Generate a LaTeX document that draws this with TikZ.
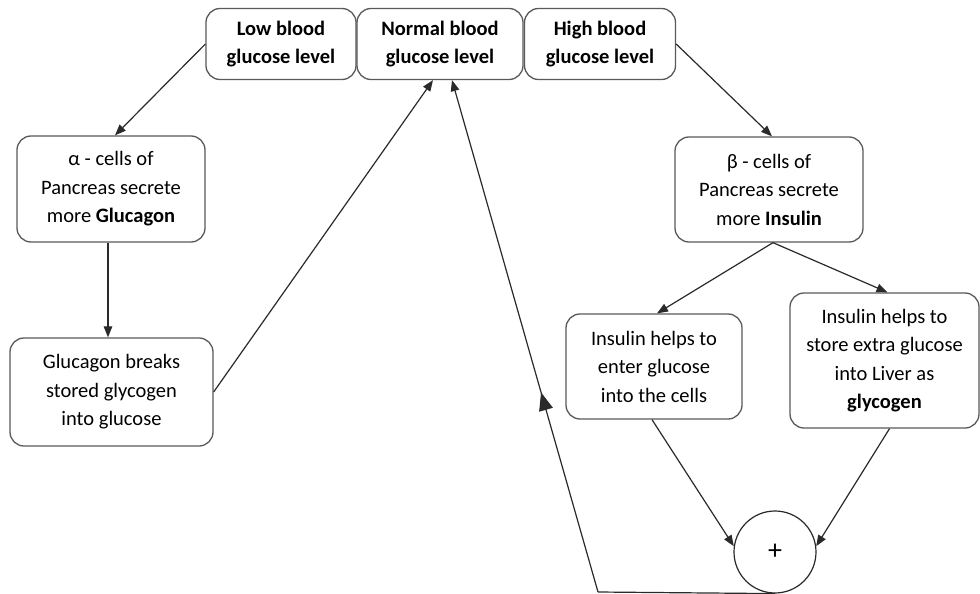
\documentclass[tikz,border=0pt]{standalone}
\usepackage{fontspec}
\setmainfont{Carlito}
\usetikzlibrary{arrows.meta,decorations.markings}
\definecolor{boxline}{HTML}{5A5A5A}
\definecolor{arrline}{HTML}{2A2A2A}
\begin{document}
\begin{tikzpicture}[x=1pt,y=-1pt,
  box/.style={draw=boxline,line width=1.3pt,rounded corners=14pt,align=center,
    inner sep=0pt,font=\fontsize{20.5}{28.5}\selectfont},
  conn/.style={draw=arrline,line width=1.2pt,-{Triangle[length=11pt,width=8.5pt]}},
  bigmid/.style={postaction={decorate},decoration={markings,
    mark=at position 0.39 with {\arrow{Triangle[length=18pt,width=14pt]}}}}
]
\useasboundingbox (0,0) rectangle (980,594);
\fill[white] (0,0) rectangle (980,594);

\node[box,minimum width=150pt,minimum height=71pt] (low) at (281,44) {\textbf{Low blood}\\\textbf{glucose level}};
\node[box,minimum width=166pt,minimum height=71pt] (normal) at (440,44) {\textbf{Normal blood}\\\textbf{glucose level}};
\node[box,minimum width=151pt,minimum height=71pt] (high) at (600,44) {\textbf{High blood}\\\textbf{glucose level}};

\node[box,minimum width=188pt,minimum height=106pt] (alpha) at (111,189) {α - cells of\\Pancreas secrete\\more \textbf{Glucagon}};
\node[box,minimum width=203pt,minimum height=108pt] (glucagon) at (111.5,392) {Glucagon breaks\\stored glycogen\\into glucose};

\node[box,minimum width=188pt,minimum height=105pt] (beta) at (769,189.5) {β - cells of\\Pancreas secrete\\more \textbf{Insulin}};
\node[box,minimum width=176pt,minimum height=105pt] (enter) at (654,366.5) {Insulin helps to\\enter glucose\\into the cells};
\node[box,minimum width=189pt,minimum height=135pt] (store) at (884.5,360.5) {Insulin helps to\\store extra glucose\\into Liver as\\\textbf{glycogen}};

\node[draw=arrline,line width=1.2pt,circle,minimum size=82pt,inner sep=0pt,
  font=\fontsize{28}{30}\selectfont] (plus) at (775,552) {+};

\coordinate (corner) at (598,592);

\draw[conn] (low.west) -- ([xshift=4pt]alpha.north);
\draw[conn] ([xshift=-3pt]alpha.south) -- ([xshift=-3.5pt]glucagon.north);
\draw[conn] (glucagon.east) -- ([xshift=-7pt]normal.south);
\draw[conn] (high.east) -- ([xshift=3pt]beta.north);
\draw[conn] ([xshift=4pt]beta.south) -- ([xshift=3pt]enter.north);
\draw[conn] ([xshift=4pt]beta.south) -- ([xshift=3pt]store.north);
\draw[conn] ([xshift=-2pt]enter.south) -- (plus.172);
\draw[conn] ([xshift=5pt]store.south) -- (plus.8);
\draw[draw=arrline,line width=1.2pt] (plus.south) -- (corner);
\draw[conn,bigmid] (corner) -- ([xshift=12pt]normal.south);
\end{tikzpicture}
\end{document}
